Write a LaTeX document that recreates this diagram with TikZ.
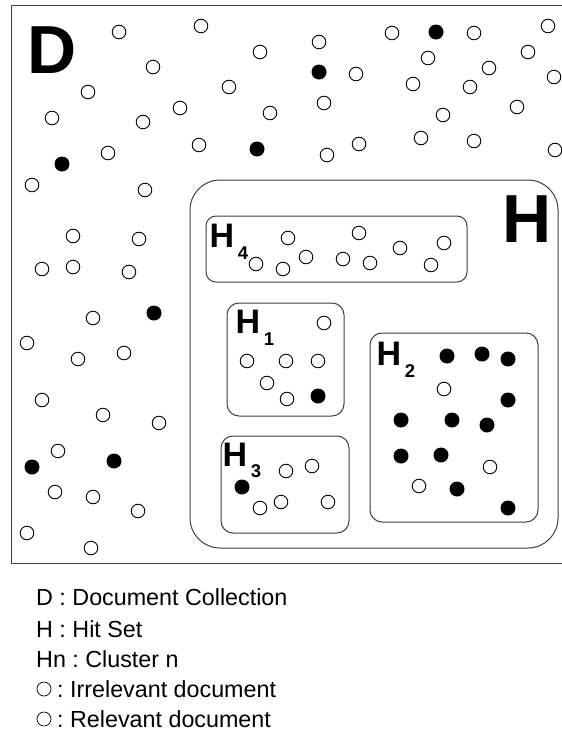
\documentclass[tikz,border=0pt]{standalone}
\usepackage{fontspec}
\setmainfont{Liberation Sans}
\begin{document}
\frenchspacing
\begin{tikzpicture}[x=1pt,y=-1pt,
  opendoc/.style={circle,draw=black,line width=0.9pt,minimum size=13.6pt,inner sep=0pt,fill=white},
  reldoc/.style={circle,fill=black,minimum size=15pt,inner sep=0pt},
  boxline/.style={draw=black!75,line width=1pt},
  biglabel/.style={font=\fontsize{68}{68}\selectfont\bfseries,inner sep=0pt,anchor=base west},
  clabel/.style={font=\fontsize{34}{34}\selectfont\bfseries,inner sep=0pt,anchor=base west},
  legendtext/.style={font=\fontsize{23.3}{27}\selectfont,inner sep=0pt,anchor=base west},
  legendcirc/.style={circle,draw=black,line width=0.7pt,minimum size=14pt,inner sep=0pt}]
\newcommand{\clsub}[2]{\kern3.5pt\raisebox{-#1}{\fontsize{18.5}{18.5}\selectfont\bfseries #2}}
\useasboundingbox (0,0) rectangle (562,731);
\fill[white] (0,0) rectangle (562,731);
% collection frame
\draw[boxline] (562,5) -- (11,5) -- (11,563) -- (562,563);
% hit set and clusters
\draw[boxline,rounded corners=30pt] (190,180) rectangle (558,548);
\draw[boxline,rounded corners=10pt] (206,216) rectangle (467,282);
\draw[boxline,rounded corners=12pt] (227,303) rectangle (344,416);
\draw[boxline,rounded corners=12pt] (370,333) rectangle (538,522);
\draw[boxline,rounded corners=12pt] (221,436) rectangle (349,533);
% labels
\node[biglabel] (lD) at (27,73) {D};
\node[biglabel] (lH) at (502,242) {H};
\node[clabel] (lH4) at (209.5,247) {H\clsub{12pt}{4}};
\node[clabel] (lH1) at (235.5,333) {H\clsub{12pt}{1}};
\node[clabel] (lH2) at (376.5,365) {H\clsub{12pt}{2}};
\node[clabel] (lH3) at (222.5,466) {H\clsub{11pt}{3}};
% irrelevant documents outside H
\foreach \x/\y [count=\i] in {119/32,201/26,260/52,153/67,88/92,229/87,180/108,52/118,143/122,270/113,199/145,108/153,32/185,145/190,
  319/42,356/74,324/103,392/33,474/33,548/26,428/58,528/52,489/68,554/77,413/84,470/87,443/115,517/107,421/138,474/141,359/144,327/155,555/150,
  73/236,139/239,42/269,73/267,129/272,93/318,27/343,78/359,124/353,
  42/400,103/415,159/423,58/451,55/492,93/497,138/511,27/533,91/548}
  \node[opendoc] (od\i) at (\x,\y) {};
% relevant documents outside H
\foreach \x/\y [count=\i] in {62/164,257/149,319/72,436/32,154/313,32/467,114/461}
  \node[reldoc] (rd\i) at (\x,\y) {};
% H4
\foreach \x/\y [count=\i] in {288/238,256/264,283/269,306/257,359/233,343/259,370/263,400/248,444/243,431/265}
  \node[opendoc] (oh4\i) at (\x,\y) {};
% H1
\foreach \x/\y [count=\i] in {324/323,247/361,286/361,318/361,267/383,287/399}
  \node[opendoc] (oh1\i) at (\x,\y) {};
\node[reldoc] (rh11) at (318,396) {};
% H2
\foreach \x/\y [count=\i] in {447/356,482/354,508/359,508/400,401/420,452/420,487/425,401/456,441/455,457/489,508/508}
  \node[reldoc] (rh2\i) at (\x,\y) {};
\foreach \x/\y [count=\i] in {444/389,490/467,419/486}
  \node[opendoc] (oh2\i) at (\x,\y) {};
% H3
\foreach \x/\y [count=\i] in {286/471,312/466,260/508,281/502,328/502}
  \node[opendoc] (oh3\i) at (\x,\y) {};
\node[reldoc] (rh31) at (242,487) {};
% legend
\node[legendtext] (leg1) at (36,605) {D : Document Collection};
\node[legendtext] (leg2) at (36,637) {H : Hit Set};
\node[legendtext] (leg3) at (36,667) {Hn : Cluster n};
\node[legendcirc] (legc4) at (44,689) {};
\node[legendtext] (leg4) at (57,697) {: Irrelevant document};
\node[legendcirc] (legc5) at (44,719) {};
\node[legendtext] (leg5) at (57,727) {: Relevant document};
\end{tikzpicture}
\end{document}
